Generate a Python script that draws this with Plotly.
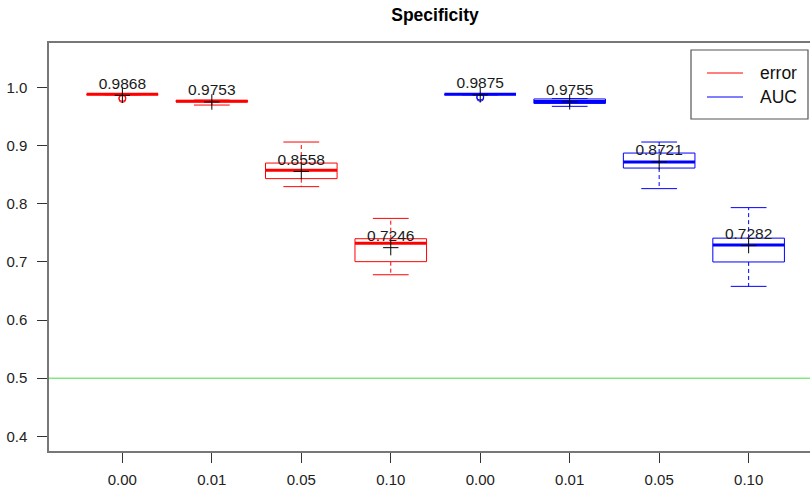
import plotly.graph_objects as go

# ---------------- data ----------------
categories = ["0.00", "0.01", "0.05", "0.10", "0.00", "0.01", "0.05", "0.10"]

error_q1 = [0.9880, 0.9755, 0.8434, 0.7005]
error_median = [0.9885, 0.9765, 0.8577, 0.7320]
error_q3 = [0.9890, 0.9780, 0.8702, 0.7400]
error_lower = [0.9875, 0.9700, 0.8296, 0.6780]
error_upper = [0.9895, 0.9785, 0.9064, 0.7750]
error_mean = [0.9868, 0.9753, 0.8558, 0.7246]
error_outliers = [[0.9825, 0.9805], [], [], []]

auc_q1 = [0.9880, 0.9728, 0.8616, 0.7000]
auc_median = [0.9885, 0.9762, 0.8720, 0.7290]
auc_q3 = [0.9890, 0.9805, 0.8874, 0.7410]
auc_lower = [0.9875, 0.9678, 0.8262, 0.6580]
auc_upper = [0.9895, 0.9810, 0.9064, 0.7935]
auc_mean = [0.9875, 0.9755, 0.8721, 0.7282]
auc_outliers = [[0.9845, 0.9825], [], [], []]

threshold = 0.5
y_ticks = [0.4, 0.5, 0.6, 0.7, 0.8, 0.9, 1.0]

# ---------------- layout constants ----------------
W, H = 810, 491
ML, MR, MT, MB = 49, 0, 43, 40
BOXW = 0.4      # half box width (boxwex 0.8)
STAPLE = 0.2    # half staple width
FONT = "Liberation Sans, Arial, sans-serif"

fig = go.Figure()


def add_group(positions, q1, med, q3, lo, hi, mean, outl, color, name):
    bx, by, mx, my, wx, wy, sx, sy = [], [], [], [], [], [], [], []
    for i, p in enumerate(positions):
        bx += [p - BOXW, p + BOXW, p + BOXW, p - BOXW, p - BOXW, None]
        by += [q1[i], q1[i], q3[i], q3[i], q1[i], None]
        mx += [p - BOXW, p + BOXW, None]
        my += [med[i], med[i], None]
        wx += [p, p, None, p, p, None]
        wy += [q3[i], hi[i], None, q1[i], lo[i], None]
        sx += [p - STAPLE, p + STAPLE, None, p - STAPLE, p + STAPLE, None]
        sy += [hi[i], hi[i], None, lo[i], lo[i], None]
    fig.add_trace(go.Scatter(x=wx, y=wy, mode="lines", name=name,
                             line=dict(color=color, width=1, dash="4px,3px"),
                             showlegend=False, hoverinfo="skip"))
    fig.add_trace(go.Scatter(x=sx, y=sy, mode="lines", name=name,
                             line=dict(color=color, width=1),
                             showlegend=False, hoverinfo="skip"))
    fig.add_trace(go.Scatter(x=bx, y=by, mode="lines", name=name,
                             line=dict(color=color, width=1),
                             fill="toself", fillcolor="rgba(255,255,255,1)",
                             showlegend=False, hoverinfo="skip"))
    fig.add_trace(go.Scatter(x=mx, y=my, mode="lines", name=name,
                             line=dict(color=color, width=3),
                             showlegend=False, hoverinfo="skip"))
    ox, oy = [], []
    for i, p in enumerate(positions):
        for v in outl[i]:
            ox.append(p)
            oy.append(v)
    fig.add_trace(go.Scatter(x=ox, y=oy, mode="markers", name=name,
                             marker=dict(symbol="circle-open", size=7,
                                         color=color, line=dict(width=1)),
                             showlegend=False))
    fig.add_trace(go.Scatter(x=positions, y=mean, mode="markers",
                             name=name,
                             marker=dict(symbol="cross-thin-open", size=11,
                                         color="black",
                                         line=dict(color="black", width=1)),
                             showlegend=False))
    fig.add_trace(go.Scatter(x=positions, y=mean, mode="markers+text",
                             name=name,
                             text=[f"{v:.4f}" for v in mean],
                             textposition="top center",
                             textfont=dict(family=FONT, size=15.5,
                                           color="#1a1a1a"),
                             marker=dict(size=3, color="rgba(0,0,0,0)"),
                             hoverinfo="skip", showlegend=False))


add_group([1, 2, 3, 4], error_q1, error_median, error_q3, error_lower,
          error_upper, error_mean, error_outliers, "#ff0000", "error")
add_group([5, 6, 7, 8], auc_q1, auc_median, auc_q3, auc_lower,
          auc_upper, auc_mean, auc_outliers, "#0000ff", "AUC")

# reference line
fig.add_shape(type="line", xref="paper", x0=0, x1=1, yref="y",
              y0=threshold, y1=threshold,
              line=dict(color="#44dd44", width=1), layer="below")


# manual legend (pixel -> paper helpers)
def px_x(px):
    return (px - ML) / (W - ML - MR)


def px_y(py):
    return (H - MB - py) / (H - MT - MB)


fig.add_shape(type="rect", xref="paper", yref="paper",
              x0=px_x(691), x1=px_x(808), y0=px_y(119), y1=px_y(50),
              line=dict(color="#555555", width=1.2), fillcolor="white")
for label, color, yy in [("error", "#ff0000", 73), ("AUC", "#0000ff", 97)]:
    fig.add_shape(type="line", xref="paper", yref="paper",
                  x0=px_x(707), x1=px_x(743), y0=px_y(yy), y1=px_y(yy),
                  line=dict(color=color, width=1))
    fig.add_annotation(xref="paper", yref="paper", x=px_x(758), y=px_y(yy),
                       text=label, showarrow=False, xanchor="left",
                       yanchor="middle",
                       font=dict(family=FONT, size=17.5, color="#111111"))

axis_font = dict(family=FONT, size=15, color="#222222")

fig.update_layout(
    width=W, height=H,
    margin=dict(l=ML, r=MR, t=MT, b=MB),
    paper_bgcolor="white", plot_bgcolor="white",
    showlegend=False,
    title=dict(text="<b>Specificity</b>", x=px_x(435), xref="paper",
               xanchor="center", y=1 - 15 / H, yref="container",
               yanchor="middle",
               font=dict(family=FONT, size=17.5, color="#000000")),
    xaxis=dict(range=[0.18, 8.686], tickmode="array",
               tickvals=list(range(1, 9)), ticktext=categories,
               ticks="outside", ticklen=10, tickcolor="#333333",
               showline=True, linecolor="#777777", linewidth=1.5,
               mirror=True, showgrid=False, zeroline=False,
               tickfont=axis_font, ticklabelstandoff=4),
    yaxis=dict(range=[0.3747, 1.0768], tickmode="array",
               tickvals=y_ticks, ticktext=[f"{v:.1f}" for v in y_ticks],
               ticks="outside", ticklen=10, tickcolor="#333333",
               showline=True, linecolor="#777777", linewidth=1.5,
               mirror=False, showgrid=False, zeroline=False,
               tickfont=axis_font, ticklabelstandoff=7),
)

fig.write_html("out.html",
               config={"displayModeBar": False},
               post_script="document.body.style.margin='0';"
                           "document.body.style.overflow='hidden';")
